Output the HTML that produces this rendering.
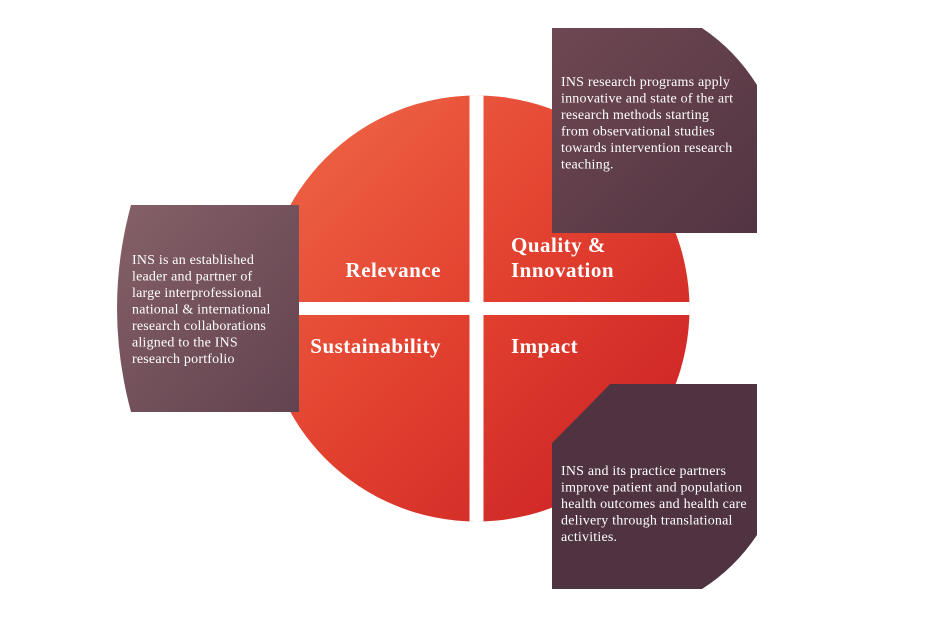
<!DOCTYPE html>
<html><head><meta charset="utf-8"><style>
html,body{margin:0;padding:0;background:#fff;}
svg{display:block;}
</style></head><body>
<svg width="930" height="620" viewBox="0 0 930 620" xmlns="http://www.w3.org/2000/svg">
<defs>
<linearGradient id="rg" x1="0" y1="0" x2="1" y2="1" gradientUnits="objectBoundingBox">
<stop offset="0" stop-color="#f06a48"/>
<stop offset="0.5" stop-color="#e2402f"/>
<stop offset="1" stop-color="#c81d24"/>
</linearGradient>
<linearGradient id="lb" x1="0" y1="0" x2="1" y2="1">
<stop offset="0" stop-color="#856068"/>
<stop offset="1" stop-color="#62434f"/>
</linearGradient>
<linearGradient id="tb" x1="0" y1="0" x2="1" y2="1">
<stop offset="0" stop-color="#6e4852"/>
<stop offset="1" stop-color="#523442"/>
</linearGradient>
<clipPath id="cc"><circle cx="476.5" cy="308.5" r="213"/></clipPath>
</defs>
<g clip-path="url(#cc)">
<rect x="263" y="95" width="427" height="427" fill="url(#rg)"/>
<rect x="469.5" y="90" width="14" height="440" fill="#fff"/>
<rect x="255" y="302" width="440" height="13" fill="#fff"/>
</g>
<path d="M131,205 L299,205 L299,412 L131,412 Q103,308 131,205 Z" fill="url(#lb)"/>
<path d="M552,28 L702,28 Q735,50 757,85 L757,233 L552,233 Z" fill="url(#tb)"/>
<path d="M610,384 L757,384 L757,535 Q735,568 702,589 L552,589 L552,443 Q585,410 610,384 Z" fill="#503340"/>
<g font-family="Liberation Serif, serif" font-weight="bold" font-size="21" letter-spacing="0.5" fill="#fff">
<text x="441" y="277" text-anchor="end">Relevance</text>
<text x="511" y="252">Quality &amp;</text>
<text x="511" y="277">Innovation</text>
<text x="441" y="353" text-anchor="end">Sustainability</text>
<text x="511" y="353">Impact</text>
</g>
<g font-family="Liberation Serif, serif" font-size="14" letter-spacing="0.2" fill="#fff">
<text x="132" y="264">INS is an established</text>
<text x="132" y="280.5">leader and partner of</text>
<text x="132" y="297">large interprofessional</text>
<text x="132" y="313.5">national &amp; international</text>
<text x="132" y="330">research collaborations</text>
<text x="132" y="346.5">aligned to the INS</text>
<text x="132" y="363">research portfolio</text>
<text x="561" y="86">INS research programs apply</text>
<text x="561" y="102.5">innovative and state of the art</text>
<text x="561" y="119">research methods starting</text>
<text x="561" y="135.5">from observational studies</text>
<text x="561" y="152">towards intervention research</text>
<text x="561" y="168.5">teaching.</text>
<text x="561" y="475">INS and its practice partners</text>
<text x="561" y="491.5">improve patient and population</text>
<text x="561" y="508">health outcomes and health care</text>
<text x="561" y="524.5">delivery through translational</text>
<text x="561" y="541">activities.</text>
</g>
</svg>
</body></html>
